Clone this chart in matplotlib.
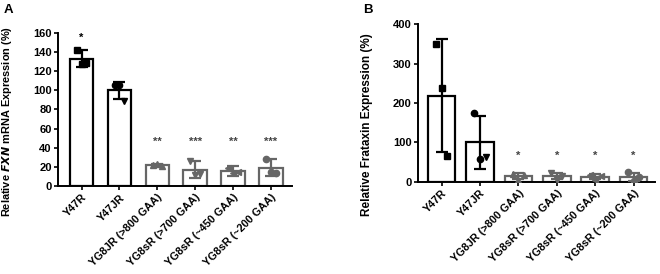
import numpy as np
import matplotlib
matplotlib.use('Agg')
import matplotlib.pyplot as plt

plt.rcParams['font.family'] = ['Liberation Sans', 'DejaVu Sans']
plt.rcParams['font.weight'] = 'bold'

# 数据
groups = ['Y47R', 'Y47JR', 'YG8JR (>800 GAA)', 'YG8sR (>700 GAA)',
          'YG8sR (~450 GAA)', 'YG8sR (~200 GAA)']

mrna_mean = [133, 100, 22, 17, 16, 19]
mrna_sd = [9, 9, 1.5, 9, 5, 9]
mrna_points = [[142, 128, 129], [106, 106, 89], [22, 23, 21],
               [26, 12, 13], [19, 14, 15], [28, 15, 14]]
mrna_stars = ['*', '', '**', '***', '**', '***']
mrna_star_y = [155, 0, 46, 46, 46, 46]

prot_mean = [218, 100, 15, 15, 13, 13]
prot_sd = [143, 68, 8, 8, 6, 10]
prot_points = [[350, 237, 67], [175, 57, 62], [20, 5, 18],
               [22, 6, 16], [17, 5, 15], [25, 2, 12]]
prot_stars = ['', '', '*', '*', '*', '*']
prot_star_y = [0, 0, 67, 67, 67, 67]

markers = [['s', 's', 's'], ['o', 'o', 'v'], ['^', '^', '^'],
           ['v', 'v', 'v'], ['<', '<', '<'], ['o', 'o', 'o']]


def draw_panel(ax, means, sds, points, stars, star_y, ylim, yticks, width):
    x = np.arange(len(means))
    for i in range(len(means)):
        c = 'black' if i < 2 else '#666666'
        ax.bar(x[i], means[i], width=width, color='white', edgecolor=c,
               linewidth=1.6, zorder=2)
        ax.errorbar(x[i], means[i], yerr=sds[i], color=c, capsize=4,
                    capthick=1.6, elinewidth=1.6, zorder=3)
        offs = [-0.12, 0.0, 0.12]
        for j, v in enumerate(points[i]):
            ax.plot(x[i] + offs[j] * width / 0.6, v, marker=markers[i][j],
                    color=c, markersize=4.5, zorder=4, linestyle='none')
        if stars[i]:
            ax.text(x[i], star_y[i], stars[i], ha='center', va='center',
                    fontsize=8, color='black' if i < 2 else '#444444')
    ax.set_xlim(-0.62, len(means) - 0.45)
    ax.set_ylim(*ylim)
    ax.set_yticks(yticks)
    ax.set_xticks(x)
    ax.set_xticklabels(groups, rotation=45, ha='right', rotation_mode='anchor',
                       fontsize=7.8, fontweight='bold')
    for lab in ax.get_yticklabels():
        lab.set_fontsize(8)
        lab.set_fontweight('bold')
    ax.spines['top'].set_visible(False)
    ax.spines['right'].set_visible(False)
    ax.spines['left'].set_linewidth(1.4)
    ax.spines['bottom'].set_linewidth(1.4)
    ax.tick_params(width=1.2, length=3, pad=1.5)


fig = plt.figure(figsize=(6.6, 2.74), dpi=100)

ax1 = fig.add_axes([0.088, 0.321, 0.354, 0.559])
draw_panel(ax1, mrna_mean, mrna_sd, mrna_points, mrna_stars, mrna_star_y,
           (0, 160), range(0, 161, 20), 0.62)
ax1.set_ylabel('Relative $\\bf{\\it{FXN}}$ mRNA Expression (%)', fontsize=7.9,
               fontweight='bold')
ax1.yaxis.set_label_coords(-0.188, 0.425)

ax2 = fig.add_axes([0.633, 0.336, 0.359, 0.576])
draw_panel(ax2, prot_mean, prot_sd, prot_points, prot_stars, prot_star_y,
           (0, 400), range(0, 401, 100), 0.72)
ax2.set_ylabel('Relative Frataxin Expression (%)', fontsize=8.5,
               fontweight='bold')
ax2.yaxis.set_label_coords(-0.19, 0.36)

fig.text(0.005, 0.985, 'A', fontsize=9.5, fontweight='bold', va='top')
fig.text(0.550, 0.985, 'B', fontsize=9.5, fontweight='bold', va='top')

fig.savefig('out.png', dpi=100)
